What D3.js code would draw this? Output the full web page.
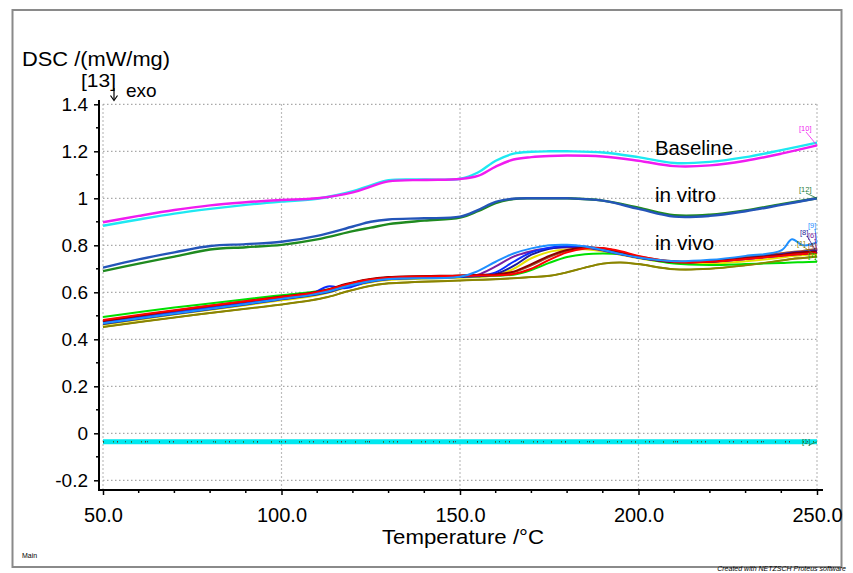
<!DOCTYPE html>
<html><head><meta charset="utf-8">
<script src="https://cdn.jsdelivr.net/npm/d3@7"></script>
<style>
body{margin:0;background:#fff}
svg text{font-family:Arial,"Liberation Sans",sans-serif;fill:#000}
</style>
</head><body>
<svg id="c" width="853" height="573"></svg>
<script>
// ---------- DATA ----------
const xTicks = [50, 100, 150, 200, 250];
const yTicks = [-0.2, 0, 0.2, 0.4, 0.6, 0.8, 1, 1.2, 1.4];
const yTickLabels = ["-0.2", "0", "0.2", "0.4", "0.6", "0.8", "1", "1.2", "1.4"];

// Baseline and in vitro share a temperature grid
const baseT = [50, 60, 70, 80, 90, 100, 110, 120, 125, 130, 140, 150, 155, 160, 165, 170, 175, 180, 190, 200, 210, 220, 230, 240, 250];
const baselineMagenta = [0.898, 0.925, 0.95, 0.97, 0.983, 0.993, 1.0, 1.025, 1.05, 1.072, 1.078, 1.082, 1.095, 1.135, 1.165, 1.175, 1.18, 1.182, 1.178, 1.16, 1.137, 1.14, 1.16, 1.19, 1.225];
const baselineCyan    = [0.883, 0.91, 0.935, 0.955, 0.972, 0.986, 0.998, 1.03, 1.055, 1.077, 1.08, 1.083, 1.11, 1.16, 1.19, 1.198, 1.2, 1.2, 1.195, 1.175, 1.15, 1.155, 1.175, 1.205, 1.237];
const vitroBlue  = [0.705, 0.74, 0.77, 0.797, 0.805, 0.815, 0.84, 0.88, 0.9, 0.91, 0.915, 0.922, 0.95, 0.985, 0.998, 1.0, 1.0, 1.0, 0.99, 0.955, 0.922, 0.925, 0.945, 0.972, 1.0];
const vitroGreen = [0.69, 0.722, 0.752, 0.782, 0.792, 0.802, 0.825, 0.86, 0.875, 0.89, 0.905, 0.918, 0.945, 0.98, 0.997, 1.0, 1.0, 1.0, 0.99, 0.96, 0.928, 0.93, 0.948, 0.975, 1.0];

// In vivo temperature grid
const vivoT = [50, 70, 90, 100, 108, 113, 118, 124, 130, 150, 155, 160, 165, 170, 175, 180, 185, 190, 195, 200, 210, 220, 230, 240, 243, 246, 250];
const vivoLime     = [0.495, 0.535, 0.57, 0.588, 0.6, 0.612, 0.632, 0.652, 0.66, 0.668, 0.668, 0.67, 0.675, 0.695, 0.725, 0.75, 0.762, 0.765, 0.762, 0.748, 0.722, 0.716, 0.72, 0.725, 0.727, 0.728, 0.73];
const vivoOlive    = [0.452, 0.493, 0.53, 0.548, 0.565, 0.58, 0.602, 0.625, 0.638, 0.65, 0.653, 0.656, 0.66, 0.665, 0.67, 0.685, 0.705, 0.722, 0.727, 0.72, 0.698, 0.7, 0.715, 0.735, 0.742, 0.746, 0.752];
const vivoYellow   = [0.462, 0.505, 0.545, 0.566, 0.582, 0.598, 0.62, 0.64, 0.652, 0.662, 0.665, 0.672, 0.70, 0.745, 0.772, 0.782, 0.783, 0.775, 0.76, 0.745, 0.725, 0.722, 0.732, 0.748, 0.754, 0.758, 0.762];
const vivoNavy     = [0.465, 0.508, 0.548, 0.57, 0.586, 0.6, 0.622, 0.643, 0.655, 0.665, 0.668, 0.678, 0.712, 0.76, 0.785, 0.795, 0.792, 0.78, 0.763, 0.748, 0.73, 0.73, 0.742, 0.756, 0.76, 0.763, 0.768];
const vivoPurple   = [0.472, 0.514, 0.554, 0.575, 0.59, 0.605, 0.628, 0.648, 0.66, 0.668, 0.675, 0.71, 0.752, 0.775, 0.787, 0.792, 0.79, 0.778, 0.762, 0.747, 0.73, 0.73, 0.742, 0.758, 0.765, 0.77, 0.775];
const vivoBlue     = [0.47, 0.512, 0.552, 0.574, 0.59, 0.625, 0.618, 0.645, 0.658, 0.668, 0.67, 0.685, 0.73, 0.77, 0.79, 0.797, 0.795, 0.782, 0.765, 0.748, 0.73, 0.732, 0.745, 0.762, 0.768, 0.772, 0.78];
const vivoSienna   = [0.476, 0.518, 0.558, 0.578, 0.594, 0.609, 0.632, 0.652, 0.663, 0.67, 0.672, 0.675, 0.685, 0.715, 0.75, 0.776, 0.787, 0.786, 0.772, 0.752, 0.732, 0.734, 0.75, 0.766, 0.772, 0.776, 0.785];
const vivoDarkRed  = [0.478, 0.522, 0.562, 0.582, 0.597, 0.612, 0.635, 0.655, 0.665, 0.672, 0.674, 0.676, 0.688, 0.72, 0.755, 0.78, 0.79, 0.787, 0.77, 0.75, 0.728, 0.73, 0.745, 0.76, 0.766, 0.77, 0.775];
const vivoRed      = [0.482, 0.524, 0.562, 0.58, 0.595, 0.61, 0.632, 0.652, 0.662, 0.67, 0.671, 0.672, 0.678, 0.70, 0.738, 0.77, 0.786, 0.787, 0.775, 0.755, 0.73, 0.73, 0.742, 0.755, 0.76, 0.763, 0.768];
const vivoDodger   = [0.468, 0.51, 0.55, 0.572, 0.588, 0.603, 0.625, 0.645, 0.657, 0.666, 0.69, 0.73, 0.765, 0.787, 0.8, 0.802, 0.795, 0.78, 0.763, 0.748, 0.732, 0.738, 0.755, 0.778, 0.826, 0.8, 0.812];

// Flat reference traces near zero
const zeroT = [50, 250];
const zeroTrace = [-0.036, -0.036];

// Series labels
const groupLabels = ["Baseline", "in vitro", "in vivo"];
const groupLabelValues = [1.215, 1.015, 0.81];

// ---------- DRAW ----------
const svg = d3.select("#c");
const x = d3.scaleLinear().domain([50, 250]).range([103, 817]);
const y = d3.scaleLinear().domain([-0.2, 1.4]).range([480.3, 104.3]);
const axisX = 99, axisY = 490;

// frame
svg.append("rect").attr("x", 12.5).attr("y", 10).attr("width", 829).attr("height", 557)
  .attr("fill", "none").attr("stroke", "#8a8a8a").attr("stroke-width", 2);

// grid
const grid = svg.append("g").attr("stroke", "#a8a8a8").attr("stroke-width", 1.2).attr("stroke-dasharray", "1.5,2.5");
grid.selectAll(".gh").data(yTicks).join("line")
  .attr("x1", x(50)).attr("x2", x(250)).attr("y1", d => y(d)).attr("y2", d => y(d));
grid.selectAll(".gv").data(xTicks).join("line")
  .attr("x1", d => x(d)).attr("x2", d => x(d)).attr("y1", y(1.4)).attr("y2", axisY);

const line = (T) => d3.line().x((d, i) => x(T[i])).y(d => y(d)).curve(d3.curveCatmullRom.alpha(0.5));

// zero traces
const zg = svg.append("g").attr("fill", "none");
zg.append("path").datum(zeroTrace).attr("d", line(zeroT)).attr("stroke", "#00e8ef").attr("stroke-width", 5);
zg.append("path").datum(zeroTrace).attr("d", line(zeroT)).attr("stroke", "#6b2a2a").attr("stroke-width", 1.5).attr("stroke-dasharray", "1,13");
zg.append("path").datum(zeroTrace).attr("d", line(zeroT)).attr("stroke", "#2a7a2a").attr("stroke-width", 1.5).attr("stroke-dasharray", "1,9,1,17");
zg.append("path").datum(zeroTrace).attr("d", line(zeroT)).attr("stroke", "#333").attr("stroke-width", 1.2).attr("stroke-dasharray", "1,21");

// in vivo
const vivo = [
  [vivoOlive, "#8b8500"], [vivoYellow, "#e8e000"], [vivoLime, "#00e000"], [vivoSienna, "#a0522d"],
  [vivoPurple, "#7a1fa0"], [vivoNavy, "#1c1c9a"], [vivoBlue, "#0a2cff"], [vivoDarkRed, "#8b0000"],
  [vivoRed, "#ff0000"], [vivoDodger, "#1e8fff"]
];
const vg = svg.append("g").attr("fill", "none").attr("stroke-width", 2);
vivo.forEach(([vals, col]) => vg.append("path").datum(vals).attr("d", line(vivoT)).attr("stroke", col));
vg.append("path").datum(vivoOlive).attr("d", line(vivoT)).attr("stroke", "#8b8500").attr("stroke-width", 1.6);

// in vitro
const itg = svg.append("g").attr("fill", "none").attr("stroke-width", 2.4);
itg.append("path").datum(vitroGreen).attr("d", line(baseT)).attr("stroke", "#1f8a1f");
itg.append("path").datum(vitroBlue).attr("d", line(baseT)).attr("stroke", "#2455b8");

// baseline
const bg = svg.append("g").attr("fill", "none").attr("stroke-width", 2.4);
bg.append("path").datum(baselineCyan).attr("d", line(baseT)).attr("stroke", "#1ee8f2");
bg.append("path").datum(baselineMagenta).attr("d", line(baseT)).attr("stroke", "#f01cf0");

// axes
const yAxis = d3.axisLeft(y).tickValues(yTicks).tickFormat((d, i) => yTickLabels[i]).tickSize(5).tickPadding(6);
const yg = svg.append("g").attr("transform", `translate(${axisX},0)`).call(yAxis);
yg.select(".domain").remove();
yg.selectAll("text").attr("font-size", 19).attr("font-family", "Arial,'Liberation Sans',sans-serif");
yg.selectAll("line").attr("stroke-width", 1.5);
const yMinor = d3.range(-0.1, 1.41, 0.2);
svg.append("g").selectAll("line").data(yMinor).join("line")
  .attr("x1", axisX - 3).attr("x2", axisX).attr("y1", d => y(d)).attr("y2", d => y(d)).attr("stroke", "#000").attr("stroke-width", 1.5);
svg.append("line").attr("x1", axisX).attr("x2", axisX).attr("y1", 100).attr("y2", axisY + 1).attr("stroke", "#000").attr("stroke-width", 2);

const xAxis = d3.axisBottom(x).tickValues(xTicks).tickFormat(d3.format(".1f")).tickSize(5).tickPadding(13);
const xg = svg.append("g").attr("transform", `translate(0,${axisY})`).call(xAxis);
xg.select(".domain").remove();
xg.selectAll("text").attr("font-size", 20).attr("font-family", "Arial,'Liberation Sans',sans-serif");
xg.selectAll("line").attr("stroke-width", 1.5);
const xMinor = d3.range(60, 250, 10).filter(d => d % 50 !== 0);
svg.append("g").selectAll("line").data(xMinor).join("line")
  .attr("x1", d => x(d)).attr("x2", d => x(d)).attr("y1", axisY).attr("y2", axisY + 3).attr("stroke", "#000").attr("stroke-width", 1.5);
svg.append("line").attr("x1", axisX - 1).attr("x2", 823).attr("y1", axisY).attr("y2", axisY).attr("stroke", "#000").attr("stroke-width", 2);

// titles
svg.append("text").attr("x", 22).attr("y", 66).attr("font-size", 19.5).attr("textLength", 148).attr("lengthAdjust", "spacingAndGlyphs").text("DSC /(mW/mg)");
svg.append("text").attr("x", 81).attr("y", 87).attr("font-size", 18).attr("textLength", 35).attr("lengthAdjust", "spacingAndGlyphs").text("[13]");
svg.append("text").attr("x", 126).attr("y", 96.5).attr("font-size", 19).text("exo");
svg.append("line").attr("x1", 114).attr("x2", 114).attr("y1", 88).attr("y2", 100).attr("stroke", "#000").attr("stroke-width", 1.2);
svg.append("path").attr("d", "M110.5,95.5 L114,100.5 L117.5,95.5").attr("fill", "none").attr("stroke", "#000").attr("stroke-width", 1.2);
svg.append("text").attr("x", 463).attr("y", 544).attr("text-anchor", "middle").attr("font-size", 20.5).attr("textLength", 162).attr("lengthAdjust", "spacingAndGlyphs").text("Temperature /°C");
svg.append("text").attr("x", 22).attr("y", 558).attr("font-size", 7).text("Main");
svg.append("text").attr("x", 846).attr("y", 571).attr("text-anchor", "end").attr("font-size", 7).attr("font-style", "italic").text("Created with NETZSCH Proteus software");

// group labels
const glw = [78, 61, 59];
groupLabels.forEach((t, i) => {
  svg.append("text").attr("x", 655).attr("y", y(groupLabelValues[i]) + 7).attr("font-size", 19.5)
    .attr("textLength", glw[i]).attr("lengthAdjust", "spacingAndGlyphs").text(t);
});

// right-end curve tags
const tags = [
  ["[10]", "#f01cf0", 799, 131, 1.225],
  ["[12]", "#1f7a3a", 799, 192, 1.0],
  ["[9]", "#1e8fff", 808, 228, 0.812],
  ["[8]", "#1c1c9a", 800, 235, 0.768],
  ["[6]", "#7a1fa0", 808, 238, 0.775],
  ["[4]", "#a0522d", 808, 248, 0.785],
  ["[1]", "#8b8500", 797, 246, 0.752],
  ["[7]", "#00c000", 808, 258, 0.73],
  ["[1]", "#1f7a3a", 802, 444, -0.036]
];
tags.forEach(([t, c, tx, ty, v]) => {
  svg.append("text").attr("x", tx).attr("y", ty).attr("font-size", 7.5).attr("fill", c).style("fill", c).text(t);
  svg.append("line").attr("x1", tx + 7).attr("y1", ty + 1).attr("x2", x(250)).attr("y2", y(v)).attr("stroke", c).attr("stroke-width", 0.8);
});
</script>
</body></html>
